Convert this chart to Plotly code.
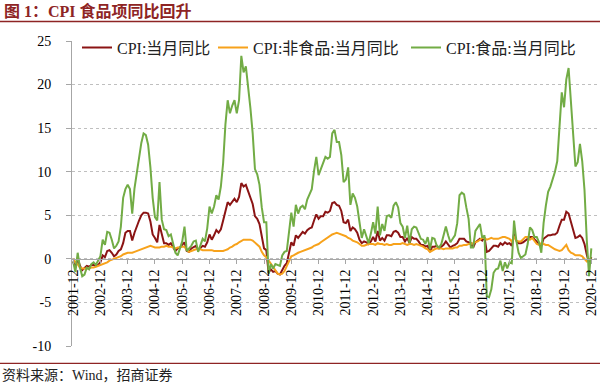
import pandas as pd
import plotly.graph_objects as go

# ---------------- data (2001-12 .. 2020-12, monthly, % yoy) ----------------
months = [d.strftime("%Y-%m") for d in pd.date_range("2001-12-01", "2020-12-01", freq="MS")]

cpi = [
    -0.3,
    -1.0, 0.0, -0.8, -1.3, -1.1, -0.8, -0.9, -0.7, -0.7, -0.8, -0.7, -0.4,
    0.4, 0.2, 0.9, 1.0, 0.7, 0.3, 0.5, 0.9, 1.1, 1.8, 3.0, 3.2,
    3.2, 2.1, 3.0, 3.8, 4.4, 5.0, 5.3, 5.3, 5.2, 4.3, 2.8, 2.4,
    1.9, 3.9, 2.7, 1.8, 1.8, 1.6, 1.8, 1.3, 0.9, 1.2, 1.3, 1.6,
    1.9, 0.9, 0.8, 1.2, 1.4, 1.5, 1.0, 1.3, 1.5, 1.4, 1.9, 2.8,
    2.2, 2.7, 3.3, 3.0, 3.4, 4.4, 5.6, 6.5, 6.2, 6.5, 6.9, 6.5,
    7.1, 8.7, 8.3, 8.5, 7.7, 7.1, 6.3, 4.9, 4.6, 4.0, 2.4, 1.2,
    1.0, -1.6, -1.2, -1.5, -1.4, -1.7, -1.8, -1.2, -0.8, -0.5, 0.6, 1.9,
    1.5, 2.7, 2.4, 2.8, 3.1, 2.9, 3.3, 3.5, 3.6, 4.4, 5.1, 4.6,
    4.9, 4.9, 5.4, 5.3, 5.5, 6.4, 6.5, 6.2, 6.1, 5.5, 4.2, 4.1,
    4.5, 3.2, 3.6, 3.4, 3.0, 2.2, 1.8, 2.0, 1.9, 1.7, 2.0, 2.5,
    2.0, 3.2, 2.1, 2.4, 2.1, 2.7, 2.7, 2.6, 3.1, 3.2, 3.0, 2.5,
    2.5, 2.0, 2.4, 1.8, 2.5, 2.3, 2.3, 2.0, 1.6, 1.6, 1.4, 1.5,
    0.8, 1.4, 1.4, 1.5, 1.2, 1.4, 1.6, 2.0, 1.6, 1.3, 1.5, 1.6,
    1.8, 2.3, 2.3, 2.3, 2.0, 1.9, 1.8, 1.3, 1.9, 2.1, 2.3, 2.1,
    2.5, 0.8, 0.9, 1.2, 1.5, 1.5, 1.4, 1.8, 1.6, 1.9, 1.7, 1.8,
    1.5, 2.9, 2.1, 1.8, 1.8, 1.9, 2.1, 2.3, 2.5, 2.5, 2.2, 1.9,
    1.7, 1.5, 2.3, 2.5, 2.7, 2.7, 2.8, 2.8, 3.0, 3.8, 4.5, 4.5,
    5.4, 5.2, 4.3, 3.3, 2.4, 2.5, 2.7, 2.4, 1.7, 0.5, -0.5, 0.2,
]

nonfood = [
    0.0,
    -0.4, -0.6, -1.0, -1.1, -1.1, -1.1, -1.1, -1.0, -1.0, -0.9, -0.8, -0.7,
    -0.6, -0.5, -0.4, -0.2, -0.1, 0.0, 0.1, 0.2, 0.3, 0.5, 0.6, 0.7,
    0.7, 0.7, 0.8, 0.9, 1.0, 1.1, 1.2, 1.3, 1.4, 1.5, 1.4, 1.3,
    1.3, 1.3, 1.4, 1.4, 1.5, 1.4, 1.4, 1.3, 1.2, 1.3, 1.3, 1.4,
    1.4, 1.0, 0.8, 0.9, 1.0, 1.1, 1.1, 1.1, 1.0, 1.0, 1.0, 1.0,
    1.0, 0.9, 0.9, 0.9, 0.9, 0.9, 1.0, 1.1, 1.3, 1.4, 1.6, 1.7,
    1.9, 2.1, 2.2, 2.2, 2.2, 2.2, 2.1, 1.9, 1.7, 1.4, 0.8, 0.4,
    0.2, -0.2, -0.6, -1.0, -1.4, -1.7, -1.8, -1.7, -1.4, -0.8, -0.2, 0.3,
    0.4, 0.6, 0.7, 0.8, 0.9, 1.0, 1.1, 1.2, 1.3, 1.5, 1.6, 1.7,
    1.9, 2.1, 2.3, 2.4, 2.6, 2.8, 2.9, 3.0, 2.9, 2.8, 2.7, 2.6,
    2.4, 2.3, 2.1, 2.0, 1.9, 1.7, 1.5, 1.5, 1.6, 1.7, 1.7, 1.7,
    1.6, 1.8, 1.7, 1.7, 1.6, 1.7, 1.6, 1.6, 1.7, 1.7, 1.7, 1.7,
    1.8, 1.7, 1.6, 1.7, 1.7, 1.6, 1.7, 1.6, 1.5, 1.4, 1.2, 1.1,
    0.8, 1.0, 1.1, 1.2, 1.2, 1.2, 1.1, 1.2, 1.2, 1.2, 1.2, 1.3,
    1.3, 1.5, 1.5, 1.6, 1.6, 1.7, 1.7, 1.8, 1.9, 2.0, 2.2, 2.4,
    2.4, 2.2, 2.3, 2.4, 2.3, 2.3, 2.3, 2.4, 2.5, 2.5, 2.4, 2.3,
    2.0, 2.5, 2.1, 2.0, 2.0, 2.2, 2.5, 2.5, 2.2, 2.4, 2.1, 1.7,
    1.6, 1.8, 1.7, 1.6, 1.6, 1.4, 1.3, 1.1, 1.0, 0.9, 1.0, 1.3,
    1.6, 1.0, 0.7, 0.6, 0.4, 0.4, 0.4, 0.3, 0.0, -0.3, -0.1, 0.0,
]

food = [
    -0.3,
    -1.5, 0.7, -1.0, -2.0, -1.8, -1.0, -1.2, -0.6, -0.4, -0.7, -0.2, 0.3,
    2.2, 1.6, 3.1, 3.0, 2.2, 1.2, 1.5, 2.0, 3.7, 7.0, 8.0, 8.5,
    8.0, 5.2, 8.1, 10.0, 11.5, 13.3, 14.4, 14.2, 13.1, 10.5, 7.0, 4.8,
    4.4, 8.8, 4.5, 3.4, 3.3, 2.6, 2.8, 1.6, 0.7, 0.4, 1.2, 2.0,
    3.7, 0.9, 1.2, 1.5, 2.0, 2.1, 0.8, 1.6, 2.3, 2.0, 3.5, 6.0,
    5.2, 6.0, 7.3, 6.8, 8.3, 11.0, 15.4, 18.2, 16.7, 17.6, 18.2, 16.7,
    18.2, 23.3, 21.4, 22.1, 19.9, 17.3, 14.4, 10.3, 9.7, 8.5, 5.9, 4.2,
    4.2, -1.7, -0.6, -1.1, -0.6, -0.7, -0.8, 0.4, 0.8, 0.9, 3.2, 5.3,
    3.7, 6.2, 5.2, 5.9, 6.1, 5.7, 6.8, 7.5, 8.0, 10.1, 11.7, 9.6,
    10.3, 11.0, 11.7, 11.5, 11.7, 14.4, 14.8, 13.4, 13.4, 11.9, 8.8, 9.1,
    10.5, 6.2, 7.5, 7.0, 6.0, 4.2, 2.4, 3.4, 2.5, 1.8, 2.9, 4.2,
    2.9, 6.0, 2.7, 4.0, 3.2, 4.9, 5.0, 4.7, 6.1, 6.5, 5.9, 4.1,
    3.7, 2.4, 3.8, 1.8, 3.4, 3.7, 3.6, 3.0, 2.3, 2.2, 1.7, 2.5,
    1.1, 2.4, 2.3, 1.5, 1.3, 1.7, 2.7, 3.7, 2.7, 1.9, 2.3, 2.7,
    4.1, 7.3, 7.6, 7.4, 5.9, 4.6, 1.3, 1.3, 3.2, 3.6, 4.0, 2.4,
    2.7, -4.3, -4.4, -3.5, -1.6, -1.2, -1.1, -0.2, -1.4, -0.4, -1.1, -0.4,
    -0.5, 4.4, 2.1, 0.7, 0.1, 0.3, 0.5, 1.7, 3.6, 3.3, 2.5, 2.5,
    1.9, 0.7, 4.1, 6.1, 7.7, 8.3, 9.1, 10.0, 11.2, 15.5, 19.1, 17.4,
    20.6, 21.9, 18.3, 14.8, 10.6, 11.1, 13.2, 11.2, 7.9, 2.2, -2.0, 1.2,
]

series_names = ["CPI:当月同比", "CPI:非食品:当月同比", "CPI:食品:当月同比"]
series_colors = ["#8B1414", "#F7A21B", "#72AC45"]
tick_labels = months[::12]
y_ticks = [-10, -5, 0, 5, 10, 15, 20, 25]
y_ticktext = ["-10", "-5", "0", "5", "10", "15", "20", "25"]
title_text = "图 1：CPI 食品项同比回升"
source_text = "资料来源：Wind，招商证券"

# ---------------- layout geometry (pixels) ----------------
W_FIG, H_FIG = 600, 385
L, R, T, B = 72, 597, 40.5, 346.5
PW, PH = R - L, B - T


def px(xp):
    return (xp - L) / PW


def py(yp):
    return (B - yp) / PH


FONT = "Liberation Serif, Noto Sans CJK SC, serif"
RULE = "#8E2424"
legend_keys = ["legend", "legend2", "legend3"]
legend_left = [77, 213, 406]

fig = go.Figure()
for name, vals, col, lk in zip(series_names, [cpi, nonfood, food], series_colors, legend_keys):
    fig.add_trace(go.Scatter(x=months, y=vals, mode="lines", name=name, legend=lk,
                             line=dict(color=col, width=2)))

legend_common = dict(orientation="h", xanchor="left", yanchor="top", y=py(30),
                     font=dict(family=FONT, size=16, color="#222222"),
                     bgcolor="rgba(0,0,0,0)", borderwidth=0)
fig.update_layout(
    width=W_FIG, height=H_FIG,
    margin=dict(l=L, r=W_FIG - R, t=T, b=H_FIG - B, pad=0, autoexpand=False),
    paper_bgcolor="white", plot_bgcolor="white",
    font=dict(family=FONT, color="#000000"),
    showlegend=True,
    legend=dict(x=px(legend_left[0]), **legend_common),
    legend2=dict(x=px(legend_left[1]), **legend_common),
    legend3=dict(x=px(legend_left[2]), **legend_common),
)

fig.update_xaxes(
    type="category", range=[-0.5, 230.5],
    anchor="free", position=10 / 35,
    tickmode="array", tickvals=tick_labels, ticktext=tick_labels,
    tickangle=-90, tickfont=dict(family=FONT, size=14, color="#000000"),
    ticks="outside", ticklen=4, tickcolor="#A6A6A6",
    showline=True, linecolor="#A6A6A6", linewidth=1,
    showgrid=False, zeroline=False, automargin=False,
)
fig.update_yaxes(
    range=[-10, 25], tickmode="array", tickvals=y_ticks, ticktext=y_ticktext,
    showgrid=True, gridcolor="#BFBFBF", griddash="3px,3px", gridwidth=1,
    zeroline=False,
    showline=True, linecolor="#A6A6A6", linewidth=1,
    ticks="outside", ticklen=5, tickcolor="#A6A6A6",
    tickfont=dict(family=FONT, size=14, color="#000000"),
    ticklabelstandoff=12, automargin=False,
)

# title, rules and source
fig.add_annotation(text=f"<b>{title_text}</b>", xref="paper", yref="paper",
                   x=px(2), y=py(10), xanchor="left", yanchor="middle", showarrow=False,
                   font=dict(family=FONT, size=16, color=RULE))
fig.add_shape(type="line", xref="paper", yref="paper", x0=px(0), x1=px(600),
              y0=py(21), y1=py(21), line=dict(color=RULE, width=1.5))
fig.add_shape(type="line", xref="paper", yref="paper", x0=px(0), x1=px(600),
              y0=py(364), y1=py(364), line=dict(color=RULE, width=1.2))
fig.add_annotation(text=source_text, xref="paper", yref="paper",
                   x=px(0), y=py(376), xanchor="left", yanchor="middle", showarrow=False,
                   font=dict(family=FONT, size=14, color="#222222"))

fig.write_html("out.html", config={"displayModeBar": False},
               post_script="document.body.style.margin='0px';")
